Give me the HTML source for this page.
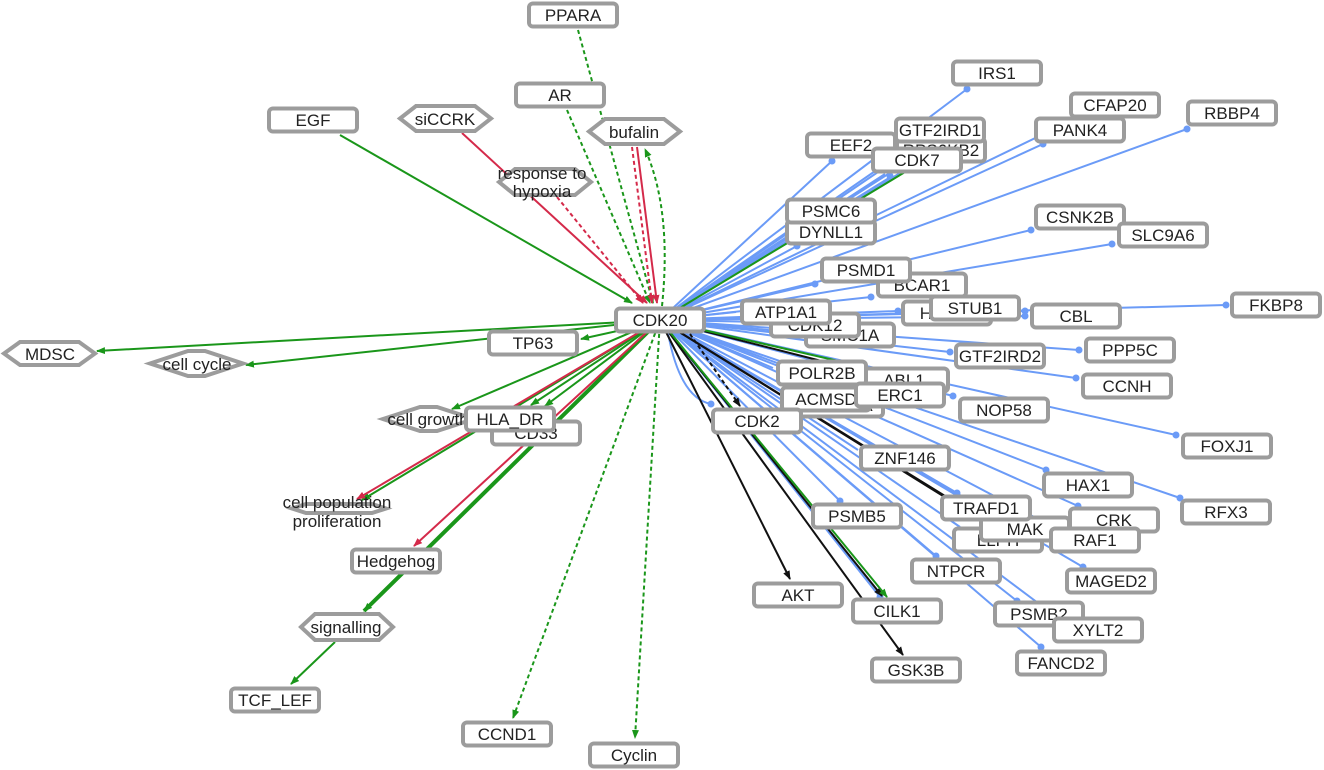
<!DOCTYPE html>
<html>
<head>
<meta charset="utf-8">
<style>
html,body{margin:0;padding:0;background:#fff;}
svg{display:block;}
text{font-family:"Liberation Sans",Arial,sans-serif;font-size:17px;fill:#222;text-anchor:middle;}
.n{fill:#fff;stroke:#9c9c9c;stroke-width:4;}
</style>
</head>
<body>
<svg width="1324" height="770" viewBox="0 0 1324 770" xmlns="http://www.w3.org/2000/svg">
<defs>
<marker id="ag" markerWidth="9" markerHeight="8" refX="8" refY="4" orient="auto" markerUnits="userSpaceOnUse"><path d="M0,0.5 L9,4 L0,7.5z" fill="#1a961a"/></marker>
<marker id="ar" markerWidth="9" markerHeight="8" refX="8" refY="4" orient="auto" markerUnits="userSpaceOnUse"><path d="M0,0.5 L9,4 L0,7.5z" fill="#d42a4a"/></marker>
<marker id="ak" markerWidth="9" markerHeight="8" refX="8" refY="4" orient="auto" markerUnits="userSpaceOnUse"><path d="M0,0.5 L9,4 L0,7.5z" fill="#111"/></marker>
</defs>

<!-- blue edges -->
<g stroke="#6b9bf7" stroke-width="2" fill="none">
<path d="M660,320 L967,89"/>
<path d="M660,320 L832,161"/>
<path d="M660,320 L892,176"/>
<path d="M660,320 L885,174"/>
<path d="M660,320 L878,172"/>
<path d="M660,320 L900,173"/>
<path d="M660,320 L910,160"/>
<path d="M660,320 L920,140"/>
<path d="M660,320 L1043,144"/>
<path d="M660,320 L1060,126"/>
<path d="M660,320 L1187,129"/>
<path d="M660,320 L1031,230"/>
<path d="M660,320 L1112,244"/>
<path d="M660,320 L797,246"/>
<path d="M660,320 L805,225"/>
<path d="M660,320 L815,284"/>
<path d="M660,320 L871,297"/>
<path d="M660,320 L898,311"/>
<path d="M660,320 L1025,311"/>
<path d="M660,320 L1025,316"/>
<path d="M660,320 L1226,305"/>
<path d="M660,320 L736,312"/>
<path d="M660,320 L766,322"/>
<path d="M660,320 L800,333"/>
<path d="M660,320 L1079,350"/>
<path d="M660,320 L950,352"/>
<path d="M660,320 L1076,378"/>
<path d="M660,320 L953,396"/>
<path d="M660,320 L1176,435"/>
<path d="M660,320 L773,368"/>
<path d="M660,320 L858,372"/>
<path d="M660,320 L776,392"/>
<path d="M660,320 L851,390"/>
<path d="M660,320 L1046,470"/>
<path d="M660,320 L1180,498"/>
<path d="M660,320 L1078,506"/>
<path d="M660,320 L957,493"/>
<path d="M660,320 L858,450"/>
<path d="M660,320 L840,501"/>
<path d="M660,320 L990,515"/>
<path d="M660,320 L960,527"/>
<path d="M660,320 L1055,528"/>
<path d="M660,320 L936,556"/>
<path d="M660,320 L1083,567"/>
<path d="M660,320 L1017,601"/>
<path d="M660,320 L1058,618"/>
<path d="M660,320 L1041,647"/>
<path d="M660,320 L880,597"/>
<path d="M668,333 Q680,398 711,404"/>
</g>
<g fill="#6b9bf7">
<circle cx="967" cy="89" r="3.5"/>
<circle cx="832" cy="161" r="3.5"/>
<circle cx="890" cy="176" r="3.5"/>
<circle cx="1043" cy="144" r="3.5"/>
<circle cx="1187" cy="129" r="3.5"/>
<circle cx="1031" cy="230" r="3.5"/>
<circle cx="1112" cy="244" r="3.5"/>
<circle cx="797" cy="246" r="3.5"/>
<circle cx="815" cy="284" r="3.5"/>
<circle cx="871" cy="297" r="3.5"/>
<circle cx="898" cy="311" r="3.5"/>
<circle cx="1025" cy="311" r="3.5"/>
<circle cx="1025" cy="316" r="3.5"/>
<circle cx="1226" cy="305" r="3.5"/>
<circle cx="1079" cy="350" r="3.5"/>
<circle cx="950" cy="352" r="3.5"/>
<circle cx="1076" cy="378" r="3.5"/>
<circle cx="953" cy="396" r="3.5"/>
<circle cx="1176" cy="435" r="3.5"/>
<circle cx="1046" cy="470" r="3.5"/>
<circle cx="1180" cy="498" r="3.5"/>
<circle cx="1078" cy="506" r="3.5"/>
<circle cx="957" cy="493" r="3.5"/>
<circle cx="840" cy="501" r="3.5"/>
<circle cx="936" cy="556" r="3.5"/>
<circle cx="1083" cy="567" r="3.5"/>
<circle cx="1017" cy="601" r="3.5"/>
<circle cx="1041" cy="647" r="3.5"/>
<circle cx="880" cy="597" r="3.5"/>
<circle cx="711" cy="404" r="3.5"/>
</g>

<!-- black edges -->
<g stroke="#111" stroke-width="2" fill="none">
<path d="M660,320 L790,579" marker-end="url(#ak)"/>
<path d="M660,320 L882,596" marker-end="url(#ak)"/>
<path d="M660,320 L903,655" marker-end="url(#ak)"/>
<path d="M660,320 L945,496"/>
<path d="M660,320 L972,514"/>
<path d="M660,320 L865,372"/>
<path d="M690,334 L740,406" stroke-dasharray="4,3" marker-end="url(#ak)"/>
</g>

<!-- green edges -->
<g stroke="#1a961a" stroke-width="2" fill="none">
<path d="M660,320 L97,351" marker-end="url(#ag)"/>
<path d="M660,320 L246,365" marker-end="url(#ag)"/>
<path d="M640,326 L581,339" marker-end="url(#ag)"/>
<path d="M660,320 L452,409" marker-end="url(#ag)"/>
<path d="M660,320 L531,405" marker-end="url(#ag)"/>
<path d="M660,320 L545,406" marker-end="url(#ag)"/>
<path d="M660,320 L362,500" marker-end="url(#ag)"/>
<path d="M660,320 L364,611" stroke-width="4" marker-end="url(#ag)"/>
<path d="M335,642 L291,684" marker-end="url(#ag)"/>
<path d="M660,320 L905,172"/>
<path d="M660,320 L860,366"/>
<path d="M660,320 L887,597" marker-end="url(#ag)"/>
<path d="M340,135 L632,303" marker-end="url(#ag)"/>
<path d="M660,320 L513,718" stroke-dasharray="4,3" marker-end="url(#ag)"/>
<path d="M660,320 L635,738" stroke-dasharray="4,3" marker-end="url(#ag)"/>
<path d="M578,30 L653,303" stroke-dasharray="4,3" marker-end="url(#ag)"/>
<path d="M567,110 L650,303" stroke-dasharray="4,3" marker-end="url(#ag)"/>
<path d="M662,306 Q672,210 645,149" stroke-dasharray="4,3" marker-end="url(#ag)"/>
</g>

<!-- red edges -->
<g stroke="#d42a4a" stroke-width="2" fill="none">
<path d="M462,133 L647,303" marker-end="url(#ar)"/>
<path d="M557,197 L643,303" stroke-dasharray="4,3" marker-end="url(#ar)"/>
<path d="M632,147 L652,303" stroke-dasharray="4,3" marker-end="url(#ar)"/>
<path d="M637,147 L657,303" marker-end="url(#ar)"/>
<path d="M660,320 L357,499" marker-end="url(#ar)"/>
<path d="M660,320 L414,546" marker-end="url(#ar)"/>
</g>

<!-- hexagon nodes -->
<polygon class="n" points="400,118.5 416,106 475,106 491,118.5 475,131 416,131"/>
<text x="445" y="125">siCCRK</text>
<polygon class="n" points="4,353.5 20,342 79,342 95,353.5 79,365 20,365"/>
<text x="50" y="360">MDSC</text>
<polygon class="n" points="589,131.5 605,119 664,119 680,131.5 664,144 605,144"/>
<text x="634" y="138">bufalin</text>
<polygon class="n" points="499,182 515,169 575,169 591,182 575,195 515,195"/>
<text x="542" y="179">response to</text>
<text x="542" y="197">hypoxia</text>
<polygon class="n" points="150,363.5 188,351 205,351 243,363.5 205,376 188,376"/>
<text x="197" y="370">cell cycle</text>
<polygon class="n" points="383,419 420,407 437,407 474,419 437,431 420,431"/>
<text x="428" y="425">cell growth</text>
<polygon class="n" points="301,627 315,614 379,614 393,627 379,640 315,640"/>
<text x="346" y="633">signalling</text>
<polygon class="n" points="292,508.5 306,504 372,504 386,508.5 372,513 306,513"/>
<text x="337" y="508">cell population</text>
<text x="337" y="527">proliferation</text>

<!-- rect nodes -->
<g>
<rect class="n" x="529" y="3.5" width="88" height="23" rx="4"/><text x="573" y="21">PPARA</text>
<rect class="n" x="516" y="83.5" width="88" height="23" rx="4"/><text x="560" y="101">AR</text>
<rect class="n" x="269" y="108.5" width="88" height="23" rx="4"/><text x="313" y="126">EGF</text>
<rect class="n" x="616" y="308.5" width="88" height="23" rx="4"/><text x="660" y="326">CDK20</text>
<rect class="n" x="489" y="331.5" width="88" height="23" rx="4"/><text x="533" y="349">TP63</text>
<rect class="n" x="492" y="421.5" width="88" height="23" rx="4"/><text x="536" y="439">CD33</text>
<rect class="n" x="466" y="407.5" width="88" height="23" rx="4"/><text x="510" y="425">HLA_DR</text>
<rect class="n" x="352" y="549.5" width="88" height="23" rx="4"/><text x="396" y="567">Hedgehog</text>
<rect class="n" x="231" y="688.5" width="88" height="23" rx="4"/><text x="275" y="706">TCF_LEF</text>
<rect class="n" x="463" y="722.5" width="88" height="23" rx="4"/><text x="507" y="740">CCND1</text>
<rect class="n" x="590" y="743.5" width="88" height="23" rx="4"/><text x="634" y="761">Cyclin</text>

<rect class="n" x="953" y="61.5" width="88" height="23" rx="4"/><text x="997" y="79">IRS1</text>
<rect class="n" x="1071" y="93.5" width="88" height="23" rx="4"/><text x="1115" y="111">CFAP20</text>
<rect class="n" x="1036" y="118.5" width="88" height="23" rx="4"/><text x="1080" y="136">PANK4</text>
<rect class="n" x="1188" y="101.5" width="88" height="23" rx="4"/><text x="1232" y="119">RBBP4</text>
<rect class="n" x="897" y="138.5" width="88" height="23" rx="4"/><text x="941" y="156">RPS6KB2</text>
<rect class="n" x="896" y="118.5" width="88" height="23" rx="4"/><text x="940" y="136">GTF2IRD1</text>
<rect class="n" x="807" y="133.5" width="88" height="23" rx="4"/><text x="851" y="151">EEF2</text>
<rect class="n" x="873" y="148.5" width="88" height="23" rx="4"/><text x="917" y="166">CDK7</text>
<rect class="n" x="787" y="220.5" width="88" height="23" rx="4"/><text x="831" y="238">DYNLL1</text>
<rect class="n" x="787" y="199.5" width="88" height="23" rx="4"/><text x="831" y="217">PSMC6</text>
<rect class="n" x="1036" y="205.5" width="88" height="23" rx="4"/><text x="1080" y="223">CSNK2B</text>
<rect class="n" x="1119" y="223.5" width="88" height="23" rx="4"/><text x="1163" y="241">SLC9A6</text>
<rect class="n" x="878" y="273.5" width="88" height="23" rx="4"/><text x="922" y="291">BCAR1</text>
<rect class="n" x="822" y="258.5" width="88" height="23" rx="4"/><text x="866" y="276">PSMD1</text>
<rect class="n" x="903" y="301.5" width="88" height="23" rx="4"/><text x="947" y="319">HSPA8</text>
<rect class="n" x="931" y="296.5" width="88" height="23" rx="4"/><text x="975" y="314">STUB1</text>
<rect class="n" x="1032" y="304.5" width="88" height="23" rx="4"/><text x="1076" y="322">CBL</text>
<rect class="n" x="1232" y="293.5" width="88" height="23" rx="4"/><text x="1276" y="311">FKBP8</text>
<rect class="n" x="806" y="323.5" width="88" height="23" rx="4"/><text x="850" y="341">SMC1A</text>
<rect class="n" x="771" y="313.5" width="88" height="23" rx="4"/><text x="815" y="331">CDK12</text>
<rect class="n" x="742" y="300.5" width="88" height="23" rx="4"/><text x="786" y="318">ATP1A1</text>
<rect class="n" x="1086" y="338.5" width="88" height="23" rx="4"/><text x="1130" y="356">PPP5C</text>
<rect class="n" x="956" y="344.5" width="88" height="23" rx="4"/><text x="1000" y="362">GTF2IRD2</text>
<rect class="n" x="1083" y="374.5" width="88" height="23" rx="4"/><text x="1127" y="392">CCNH</text>
<rect class="n" x="960" y="398.5" width="88" height="23" rx="4"/><text x="1004" y="416">NOP58</text>
<rect class="n" x="1183" y="434.5" width="88" height="23" rx="4"/><text x="1227" y="452">FOXJ1</text>
<rect class="n" x="860" y="368.5" width="88" height="23" rx="4"/><text x="904" y="386">ABL1</text>
<rect class="n" x="778" y="361.5" width="88" height="23" rx="4"/><text x="822" y="379">POLR2B</text>
<rect class="n" x="795" y="393.5" width="88" height="23" rx="4"/><text x="839" y="411">POLR2A</text>
<rect class="n" x="782" y="387.5" width="88" height="23" rx="4"/><text x="826" y="405">ACMSD</text>
<rect class="n" x="856" y="383.5" width="88" height="23" rx="4"/><text x="900" y="401">ERC1</text>
<rect class="n" x="713" y="409.5" width="88" height="23" rx="4"/><text x="757" y="427">CDK2</text>
<rect class="n" x="861" y="446.5" width="88" height="23" rx="4"/><text x="905" y="464">ZNF146</text>
<rect class="n" x="1044" y="473.5" width="88" height="23" rx="4"/><text x="1088" y="491">HAX1</text>
<rect class="n" x="1182" y="500.5" width="88" height="23" rx="4"/><text x="1226" y="518">RFX3</text>
<rect class="n" x="954" y="528.5" width="88" height="23" rx="4"/><text x="998" y="546">LLPH</text>
<rect class="n" x="981" y="517.5" width="88" height="23" rx="4"/><text x="1025" y="535">MAK</text>
<rect class="n" x="942" y="496.5" width="88" height="23" rx="4"/><text x="986" y="514">TRAFD1</text>
<rect class="n" x="1070" y="508.5" width="88" height="23" rx="4"/><text x="1114" y="526">CRK</text>
<rect class="n" x="1051" y="528.5" width="88" height="23" rx="4"/><text x="1095" y="546">RAF1</text>
<rect class="n" x="813" y="504.5" width="88" height="23" rx="4"/><text x="857" y="522">PSMB5</text>
<rect class="n" x="912" y="559.5" width="88" height="23" rx="4"/><text x="956" y="577">NTPCR</text>
<rect class="n" x="1067" y="569.5" width="88" height="23" rx="4"/><text x="1111" y="587">MAGED2</text>
<rect class="n" x="754" y="583.5" width="88" height="23" rx="4"/><text x="798" y="601">AKT</text>
<rect class="n" x="853" y="599.5" width="88" height="23" rx="4"/><text x="897" y="617">CILK1</text>
<rect class="n" x="995" y="602.5" width="88" height="23" rx="4"/><text x="1039" y="620">PSMB2</text>
<rect class="n" x="1054" y="618.5" width="88" height="23" rx="4"/><text x="1098" y="636">XYLT2</text>
<rect class="n" x="872" y="658.5" width="88" height="23" rx="4"/><text x="916" y="676">GSK3B</text>
<rect class="n" x="1017" y="651.5" width="88" height="23" rx="4"/><text x="1061" y="669">FANCD2</text>
</g>
</svg>
</body>
</html>
